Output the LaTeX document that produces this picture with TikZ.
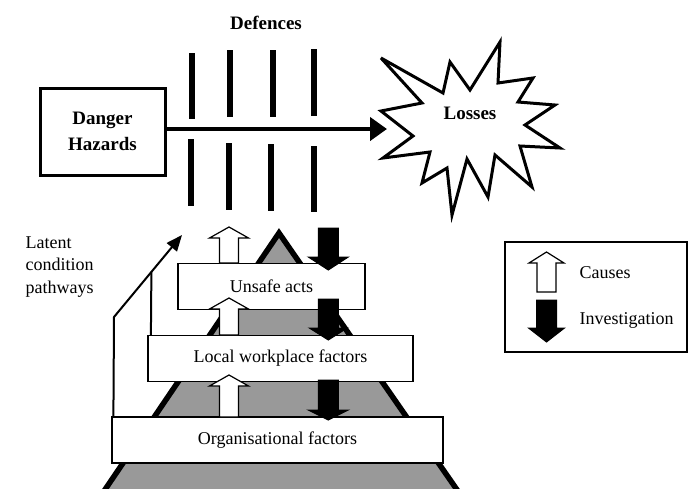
\documentclass[tikz,border=0pt]{standalone}
\usepackage{fontspec}
\setmainfont{Liberation Serif}
\usetikzlibrary{arrows.meta,calc}
\definecolor{pyrgray}{gray}{0.6}

\begin{document}
\begin{tikzpicture}[x=1pt, y=-1pt,
		every node/.style={font=\fontsize{18}{22.5}\selectfont},
		bigtext/.style={font=\fontsize{19}{26}\selectfont\bfseries},
		layer/.style={draw, fill=white, line width=1.2pt, minimum height=46pt},
		bar/.style={line width=6pt},
		hazbox/.style={draw, line width=3pt, minimum width=125pt, minimum height=87pt, align=center}]
		\useasboundingbox (0,0) rectangle (689,488);
		\clip (0,0) rectangle (689,488);
		
		% pyramid and its layers
		\draw[line width=5.5pt, fill=pyrgray] (279,233) -- (462,497) -- (100,497) -- cycle;
		\node[layer, minimum width=187pt] (unsafe) at (271.5,286.5) {Unsafe acts};
		\node[layer, minimum width=265pt] (local) at (280.5,358.5) {Local workplace factors};
		\node[layer, minimum width=331pt] (org) at (277.5,440) {Organisational factors};
		
		% legend
		\node[draw, line width=1.2pt, minimum width=182pt, minimum height=110pt] (legend) at (596,297) {};
		\node[anchor=west] (causes) at (576,273) {Causes};
		\node[anchor=west] (invest) at (576,320) {Investigation};
		
		\foreach \x/\t/\m/\b/\h in {229/227/238/263/19.5, 229/298/309/335/19.5, 229/375/386/417/19.5, 546.5/252/263/292/17.5}
		{
			\draw[line width=1.2pt, fill=white] (\x-\h,\m) -- (\x,\t) -- (\x+\h,\m) -- (\x+9.5,\m) -- (\x+9.5,\b) -- (\x-9.5,\b) -- (\x-9.5,\m) -- cycle;
		}
		\foreach \x/\t/\m/\b/\h in {328.3/228/257/270/20, 328.3/299/328/340/19, 328.3/380/410/420/20, 546.5/300/328/342/18}
		{
			\draw[line width=1pt, fill=black] (\x-10,\t) -- (\x+10,\t) -- (\x+10,\m) -- (\x+\h,\m) -- (\x,\b) -- (\x-\h,\m) -- (\x-10,\m) -- cycle;
		}
		
		% latent condition pathways
		\node[anchor=west, align=left] (latent) at (22,267) {Latent\\condition\\pathways};
		\coordinate (bend) at (114,317);
		\coordinate (lctip) at (182,235);
		\draw[line width=2pt, -{Triangle[length=16pt,width=13pt]}] ([xshift=2pt]org.north west) -- (bend) -- (lctip);
		\draw[line width=2pt] ([xshift=3.5pt]local.north west) -- ($(bend)!0.55!(lctip)$);
		
		% losses
		\draw[line width=3pt, fill=white, miter limit=6] (381,58) -- (443,93) -- (450,62) -- (470,90) -- (500,42) -- (498,83) -- (533,78) -- (518,102) -- (555,105) -- (525,125) -- (560,148) -- (520,146) -- (532,187) -- (495,155) -- (488,197) -- (467,159) -- (452,215) -- (447,168) -- (422,183) -- (430,152) -- (383,158) -- (413,136) -- (381,111) -- (422,103) -- cycle;
		\node[bigtext] (losses) at (470,113) {Losses};
		
		% defences
		\node[bigtext] (defences) at (266,23) {Defences};
		\foreach \x/\a/\b in {192/53/119, 230/50/117, 273/50/117, 314/49/116, 191/139/206, 229/143/210, 271/144/211, 314/146/212}
		{
			\draw[bar] (\x,\a) -- (\x,\b);
		}
		
		\node[hazbox, bigtext] (danger) at (102.5,131.5) {Danger\\Hazards};
		\coordinate (hit) at (387,129);
		\draw[line width=4.5pt, -{Triangle[length=17pt,width=23pt]}] (danger.east |- hit) -- (hit);
	\end{tikzpicture}
\end{document}
